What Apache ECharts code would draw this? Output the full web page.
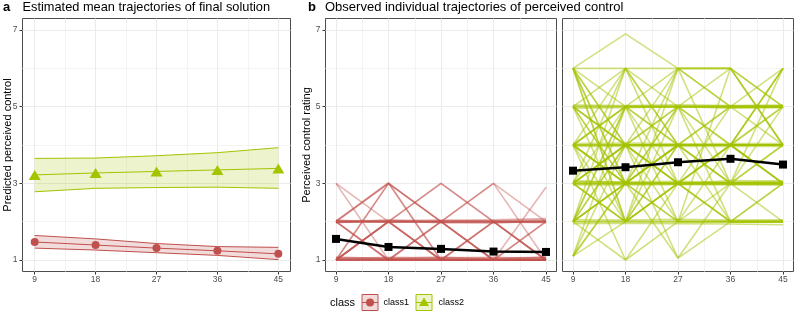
<!DOCTYPE html>
<html><head><meta charset="utf-8">
<script src="https://cdn.jsdelivr.net/npm/echarts@6/dist/echarts.min.js"></script>
<style>html,body{margin:0;padding:0;background:#fff}#c{width:794px;height:312px}</style>
</head><body><div id="c"></div>
<script>
// ---- data ----
const times = [9, 18, 27, 36, 45];
const xTicks = [9, 18, 27, 36, 45];
const xMinor = [13.5, 22.5, 31.5, 40.5];
const yTicks = [1, 3, 5, 7];
const yMinor = [2, 4, 6];
const classNames = ['class1', 'class2'];

// panel a: estimated mean trajectories with confidence bands
const class1Mean  = [1.47, 1.39, 1.31, 1.24, 1.16];
const class1Lower = [1.31, 1.26, 1.19, 1.12, 1.01];
const class1Upper = [1.64, 1.55, 1.43, 1.35, 1.33];
const class2Mean  = [3.22, 3.27, 3.31, 3.35, 3.39];
const class2Lower = [2.78, 2.87, 2.89, 2.90, 2.87];
const class2Upper = [3.65, 3.66, 3.72, 3.80, 3.93];

// panel b: observed means
const obs1Mean = [1.55, 1.34, 1.29, 1.22, 1.21];
const obs2Mean = [3.33, 3.42, 3.55, 3.64, 3.49];

// panel b: observed individual trajectories (values at 9,18,27,36,45)
const traj1 = [
  [1,1,1,1,1],[1,1,1,1,1],[1.02,1.03,1.02,1.01,1.03],[1.04,1.02,1.05,1.03,1.05],
  [1.06,1.05,1.03,1.05,1.07],[1.03,1.07,1.06,1.07,1.04],[1.08,1.04,1.08,1.02,1.08],
  [2,2,2,2,2],[2.02,2.03,2.04,2.02,2.05],[1.97,2.05,1.98,1.96,2.02],[2.04,1.98,2.02,2.05,2.08],
  [1.98,2.01,1.97,1.99,1.97],[3,1,1,1,1],[3,2,1,1,1],[2,3,2,2,2],[2,3,2,1,1],
  [2.02,3.02,1,1,1],[1,3,2,1,1],[1,3,1,1,2],[2,2,3,2,1],[1,2,3,2,2],[1,1,2,3,1],
  [1,2,2,3,2],[2,1,1,2,1],[1,2,1,1,1],[2,1,2,1,1],[1,1,2,2,2],[2,2,1,1,1],
  [1,2,2,2,1],[2,1,1,1,2],[1,1,1,2,1],[1,1,1,1,2.9],[1,2,1,2,2],[2,2,2,1,1]
];
const traj2 = [
  [6,6.9,6,5,5],[6,6,5,5,5],[6,5,5,5,5],[6,4,4,4,4],[6,3,4,4,4],[5,6,6,6,5],
  [5,5,5,5,5],[5.04,5.03,5.05,5.03,5.04],[4.96,4.97,5,4.96,4.97],[5,5,6,6,4],
  [5,4,4,4,6],[4,4,4,4,6],[4,4,5,4,6],[4,5,5,5,5],[4,4,4,4,4],[4.04,4.05,4.03,4.04,4.04],
  [3.96,3.97,3.96,3.97,3.96],[4,3,3,3,3],[4,3,4,3,4],[4,5,4,3,3],[3,3,3,3,3],
  [3.04,3.04,3.05,3.03,3.05],[2.96,2.96,2.97,2.96,2.95],[3.07,3.02,2.99,3.07,3.06],
  [3,4,4,4,4],[3,4,5,5,5],[3,2,2,2,2],[3,3,5,4,3],[3,5,3,2,3],[2,2,2,2,2],
  [2.05,2.04,2.06,2.04,2.05],[1.95,1.96,1.95,1.94,1.92],[2,3,4,4,4],[2,3,3,4,3],
  [2,4,3,3,3],[2,1,2,2,2],[2,3,2,3,3],[1.1,3,3,3,3],[1.1,4,4,4,4],[1.1,3,2,2,2],
  [2,5,5,5,5],[3,4,1.05,2,2],[4,3,1.05,3,3],[3,2,3,5,4],[2,4,4,5,5],[4,3,3,2,2],
  [5,4,3,3,3],[6,4,3,3,3],[5,4,6,6,5],[4,5,5,6,4],[3,3,4,4,5],[2,3,3,2,3],
  [1.1,2,3,4,4],[4,1,3,4,4],[5,3,4,5,6],[3,4,3,4,5],[6,3,3,3,4],[4,6,4,4,4],[2,2,3,3,2],
  [6,2,3,3,3],[5,2,4,3,3],[1.1,5,4,4,4],[2,6,3,3,3],[3,6,4,2,2],[4,2,6,5,5],
  [2,5,2,4,3],[3,3,6,3,5],[5,3,5,2,2],[6,2,4,4,3],[4,4,2,6,4],[3,2,5,3,6]
];

// ---- styles ----
const RED = '#C0504D', GREEN = '#A4C400';
const FONT = 'Liberation Sans, Arial, sans-serif';
const pts = (ys) => times.map((t, i) => [t, ys[i]]);

const grids = [
  {left: 22.5, top: 18.5, width: 268, height: 253},
  {left: 325.5, top: 18.5, width: 231, height: 253},
  {left: 562.5, top: 18.5, width: 231, height: 253}
].map(g => Object.assign(g, {show: true, z: 0, borderColor: '#4d4d4d', borderWidth: 1, backgroundColor: '#fff', containLabel: false}));

const xAxes = [0, 1, 2].map(gi => ({
  type: 'value', gridIndex: gi, min: 7.2, max: 46.8,
  splitLine: {show: false}, axisLine: {show: false},
  axisTick: {show: true, customValues: xTicks, length: 3, lineStyle: {color: '#333'}},
  axisLabel: {customValues: xTicks, fontSize: 8.5, color: '#4D4D4D', margin: 4, fontFamily: FONT}
}));
const yAxes = [0, 1, 2].map(gi => ({
  type: 'value', gridIndex: gi, min: 0.7, max: 7.3,
  splitLine: {show: false}, axisLine: {show: false},
  axisTick: {show: gi !== 2, customValues: yTicks, length: 3, lineStyle: {color: '#333'}},
  axisLabel: {show: gi !== 2, customValues: yTicks, fontSize: 8.5, color: '#4D4D4D', margin: 5, fontFamily: FONT}
}));

function gridSeries(gi) {
  const major = {color: '#EBEBEB', width: 1, type: 'solid'};
  const minor = {color: '#F4F4F4', width: 1, type: 'solid'};
  return {
    type: 'line', xAxisIndex: gi, yAxisIndex: gi, data: [[9, 1]], symbol: 'none',
    lineStyle: {opacity: 0}, silent: true, z: 0.5,
    markLine: {
      z: 0.5, silent: true, symbol: 'none', label: {show: false}, animation: false,
      data: [
        ...xMinor.map(v => ({xAxis: v, lineStyle: minor})),
        ...yMinor.map(v => ({yAxis: v, lineStyle: minor})),
        ...xTicks.map(v => ({xAxis: v, lineStyle: major})),
        ...yTicks.map(v => ({yAxis: v, lineStyle: major}))
      ]
    }
  };
}

function band(lower, upper, color, fill) {
  return [
    {type: 'custom', xAxisIndex: 0, yAxisIndex: 0, silent: true, z: 1,
     data: times.map((t, i) => [t, lower[i], upper[i]]),
     encode: {x: 0, y: [1, 2]},
     renderItem: function (params, api) {
       if (params.dataIndex !== 0) return {type: 'group', children: []};
       const poly = [];
       for (let i = 0; i < times.length; i++) poly.push(api.coord([times[i], lower[i]]));
       for (let i = times.length - 1; i >= 0; i--) poly.push(api.coord([times[i], upper[i]]));
       return {type: 'polygon', shape: {points: poly}, style: {fill: fill}};
     }},
    {type: 'line', data: pts(lower), symbol: 'none', lineStyle: {color: color, width: 1}, silent: true, z: 2},
    {type: 'line', data: pts(upper), symbol: 'none', lineStyle: {color: color, width: 1}, silent: true, z: 2}
  ];
}

const series = [gridSeries(0), gridSeries(1), gridSeries(2)];
series.push(...band(class1Lower, class1Upper, RED, 'rgba(192,80,77,0.2)'));
series.push(...band(class2Lower, class2Upper, GREEN, 'rgba(164,196,0,0.2)'));
series.push({type: 'line', name: classNames[0], data: pts(class1Mean), symbol: 'circle', symbolSize: 8,
  itemStyle: {color: RED, borderWidth: 0}, lineStyle: {color: RED, width: 1}, z: 3});
series.push({type: 'line', name: classNames[1], data: pts(class2Mean), symbol: 'triangle', symbolSize: [12, 10],
  itemStyle: {color: GREEN, borderWidth: 0}, lineStyle: {color: GREEN, width: 1}, z: 3});

traj1.forEach(v => series.push({type: 'line', xAxisIndex: 1, yAxisIndex: 1, data: pts(v), symbol: 'none',
  lineStyle: {color: 'rgba(192,80,77,0.42)', width: 1.6}, silent: true, z: 2}));
traj2.forEach(v => series.push({type: 'line', xAxisIndex: 2, yAxisIndex: 2, data: pts(v), symbol: 'none',
  lineStyle: {color: 'rgba(164,196,0,0.5)', width: 1.6}, silent: true, z: 2}));
series.push({type: 'line', xAxisIndex: 1, yAxisIndex: 1, data: pts(obs1Mean), symbol: 'rect', symbolSize: 8,
  itemStyle: {color: '#000', borderWidth: 0}, lineStyle: {color: '#000', width: 2.5}, z: 4});
series.push({type: 'line', xAxisIndex: 2, yAxisIndex: 2, data: pts(obs2Mean), symbol: 'rect', symbolSize: 8,
  itemStyle: {color: '#000', borderWidth: 0}, lineStyle: {color: '#000', width: 2.5}, z: 4});

const txt = (x, y, text, extra) => ({type: 'text', x, y, silent: true, z: 10,
  style: Object.assign({text, fill: '#000', font: '12.8px ' + FONT, verticalAlign: 'middle'}, extra || {})});

const graphic = [
  txt(3, 7, 'a', {font: 'bold 13px ' + FONT}),
  txt(22.5, 7, 'Estimated mean trajectories of final solution'),
  txt(308, 7, 'b', {font: 'bold 13px ' + FONT}),
  txt(325, 7, 'Observed individual trajectories of perceived control', {font: '13px ' + FONT}),
  {type: 'text', x: 8, y: 145, rotation: Math.PI / 2, silent: true,
   style: {text: 'Predicted perceived control', font: '11px ' + FONT, fill: '#000', align: 'center', verticalAlign: 'middle'}},
  {type: 'text', x: 306.5, y: 145, rotation: Math.PI / 2, silent: true,
   style: {text: 'Perceived control rating', font: '11px ' + FONT, fill: '#000', align: 'center', verticalAlign: 'middle'}},
  txt(330, 302.5, 'class', {font: '11px ' + FONT}),
  // legend key class1
  {type: 'rect', shape: {x: 362, y: 294.5, width: 16, height: 16}, silent: true,
   style: {fill: 'rgba(192,80,77,0.2)', stroke: RED, lineWidth: 1}},
  {type: 'line', shape: {x1: 362, y1: 302.5, x2: 378, y2: 302.5}, silent: true, style: {stroke: RED, lineWidth: 1}},
  {type: 'circle', shape: {cx: 370, cy: 302.5, r: 4}, silent: true, style: {fill: RED}},
  txt(383.5, 302.5, classNames[0], {font: '9px ' + FONT}),
  // legend key class2
  {type: 'rect', shape: {x: 416, y: 294.5, width: 16, height: 16}, silent: true,
   style: {fill: 'rgba(164,196,0,0.2)', stroke: GREEN, lineWidth: 1}},
  {type: 'line', shape: {x1: 416, y1: 302.5, x2: 432, y2: 302.5}, silent: true, style: {stroke: GREEN, lineWidth: 1}},
  {type: 'polygon', shape: {points: [[424, 297.5], [429, 306], [419, 306]]}, silent: true, style: {fill: GREEN}},
  txt(438.5, 302.5, classNames[1], {font: '9px ' + FONT})
];

const chart = echarts.init(document.getElementById('c'), null, {renderer: 'canvas'});
chart.setOption({
  animation: false,
  backgroundColor: '#fff',
  grid: grids, xAxis: xAxes, yAxis: yAxes,
  series: series, graphic: graphic
});
</script></body></html>
